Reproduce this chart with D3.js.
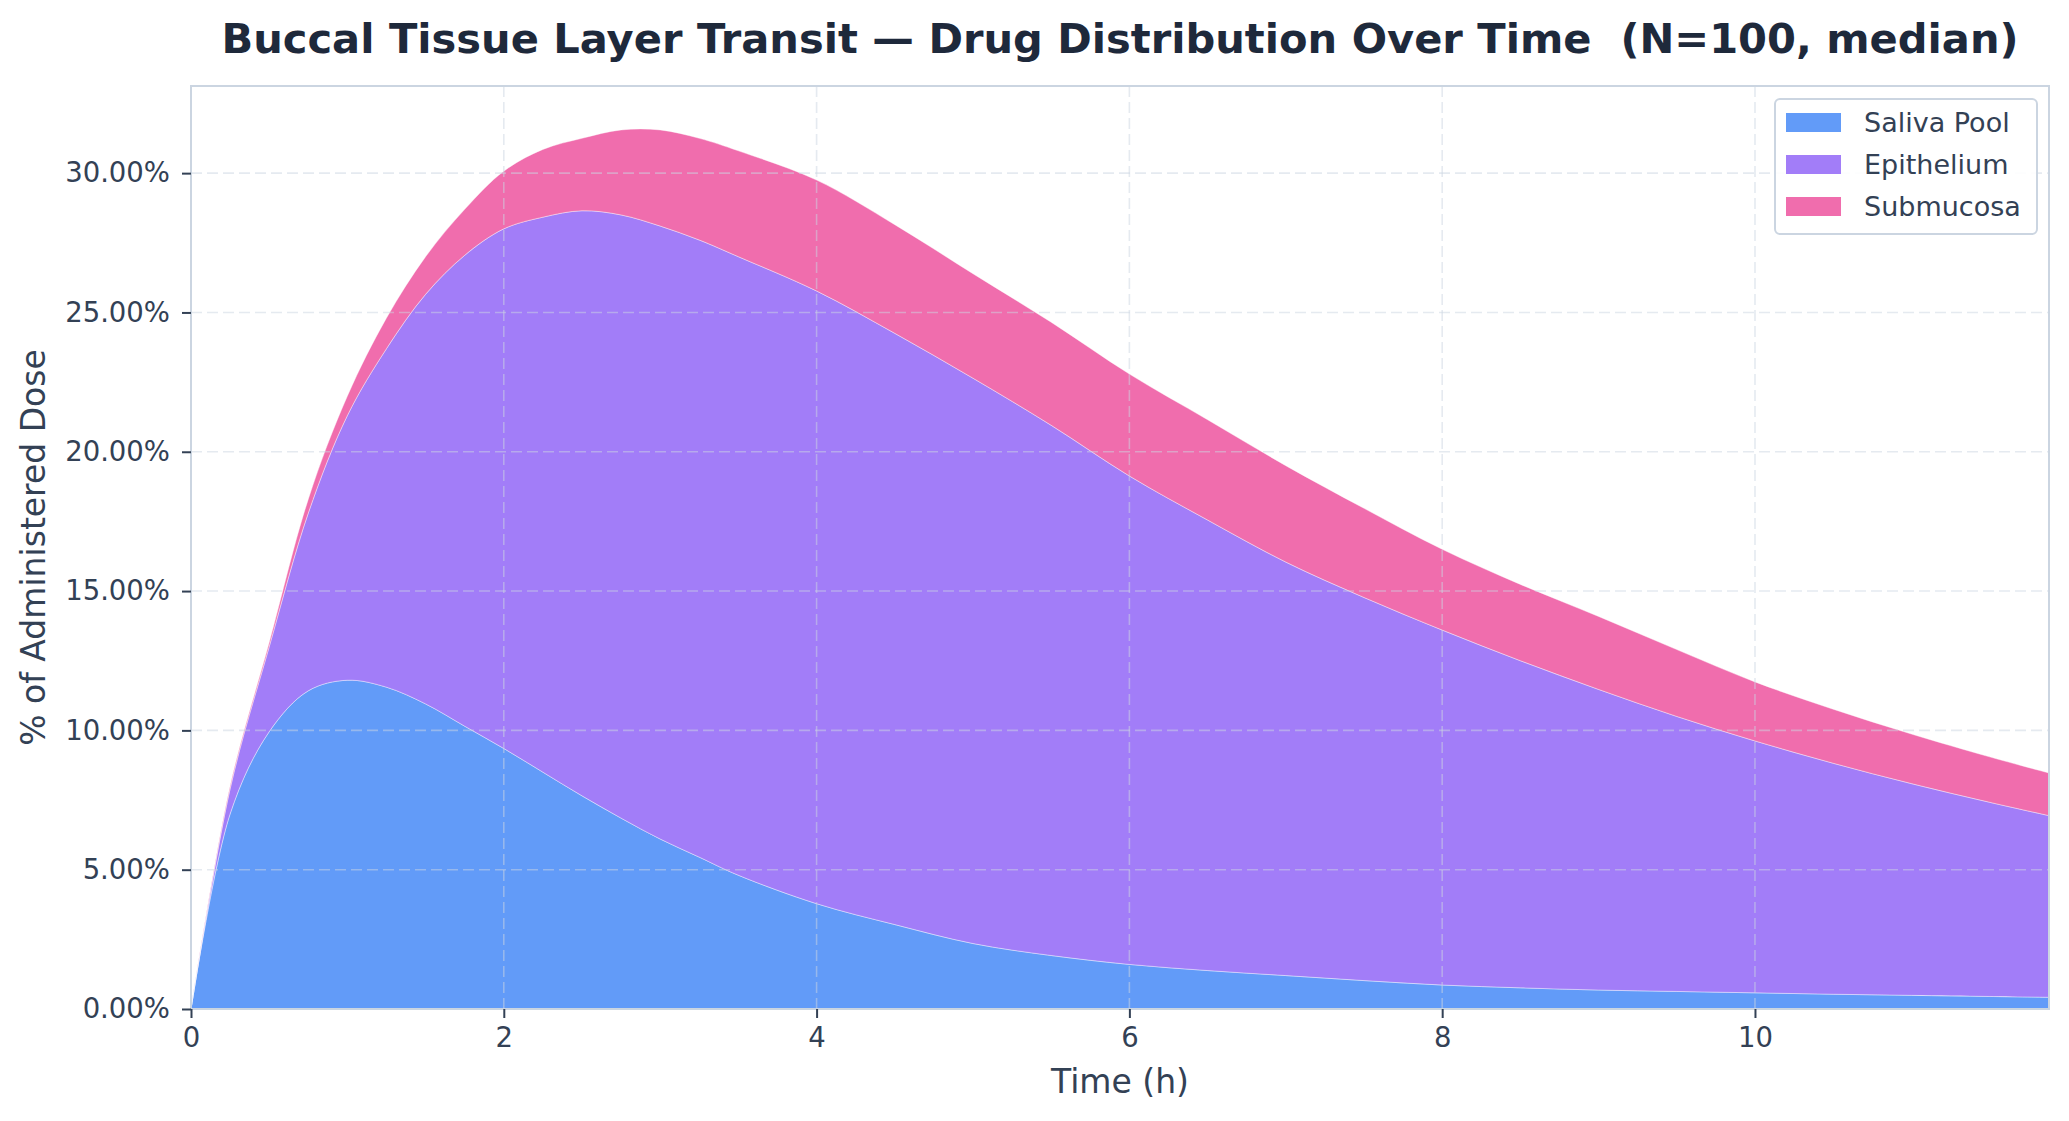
<!DOCTYPE html>
<html>
<head>
<meta charset="utf-8">
<script src="https://cdn.jsdelivr.net/npm/d3@7"></script>
<style>
  html, body { margin: 0; padding: 0; background: #fff; }
  svg { display: block; font-family: "DejaVu Sans", sans-serif; }
</style>
</head>
<body>
<script>
// time points (h) and median % of dose in each layer
const hours = [0, 0.25, 0.5, 0.75, 1, 1.25, 1.5, 1.75, 2, 2.25, 2.5, 2.75, 3, 3.25, 3.5, 4, 4.5, 5, 5.5, 6, 6.5, 7, 7.5, 8, 8.5, 9, 9.5, 10, 10.5, 11, 11.5, 11.88];
const saliva = [0, 7.0, 9.95, 11.42, 11.8, 11.55, 10.95, 10.15, 9.35, 8.5, 7.65, 6.85, 6.1, 5.45, 4.8, 3.78, 3.03, 2.35, 1.92, 1.6, 1.38, 1.2, 1.02, 0.86, 0.76, 0.68, 0.63, 0.58, 0.53, 0.49, 0.45, 0.42];
const epithelium = [0, 0.9, 3.05, 6.38, 9.5, 12.15, 14.7, 16.9, 18.65, 19.92, 21.0, 21.65, 22.0, 22.15, 22.2, 21.99, 21.22, 20.29, 19.03, 17.53, 16.17, 14.84, 13.75, 12.74, 11.74, 10.79, 9.87, 9.04, 8.29, 7.6, 6.97, 6.52];
const submucosa = [0, 0.1, 0.15, 0.5, 0.7, 1.1, 1.35, 1.65, 2.07, 2.43, 2.6, 3.05, 3.45, 3.65, 3.8, 3.98, 3.9, 3.75, 3.7, 3.66, 3.6, 3.46, 3.2, 2.9, 2.74, 2.62, 2.4, 2.12, 1.94, 1.78, 1.63, 1.53];
const layers = ["Saliva Pool", "Epithelium", "Submucosa"];
const colors = ["#3b82f6", "#8b5cf6", "#ec4899"];
const xTicks = [0, 2, 4, 6, 8, 10];
const yTicks = [0, 5, 10, 15, 20, 25, 30];

const width = 2069, height = 1121;
const margin = {left: 191, right: 20, top: 86, bottom: 112};

const rows = hours.map((t, i) => ({
  t: t,
  "Saliva Pool": saliva[i],
  "Epithelium": epithelium[i],
  "Submucosa": submucosa[i]
}));
const series = d3.stack().keys(layers)(rows);

const x = d3.scaleLinear()
  .domain([0, d3.max(hours)])
  .range([margin.left, width - margin.right]);
const yMax = d3.max(series[series.length - 1], d => d[1]) * 1.05;
const y = d3.scaleLinear()
  .domain([0, yMax])
  .range([height - margin.bottom, margin.top]);

const svg = d3.select("body").append("svg")
  .attr("width", width)
  .attr("height", height);

const area = d3.area()
  .curve(d3.curveCatmullRom.alpha(0.5))
  .x(d => x(d.data.t))
  .y0(d => y(d[0]))
  .y1(d => y(d[1]));

svg.append("g")
  .selectAll("path")
  .data(series)
  .enter()
  .append("path")
  .attr("fill", (d, i) => colors[i])
  .attr("fill-opacity", 0.8)
  .attr("stroke", "#ffffff")
  .attr("stroke-opacity", 0.5)
  .attr("stroke-width", 0.8)
  .attr("d", area);

// dashed grid over the areas
let grid = svg.append("g")
  .attr("stroke", "#cbd5e1")
  .attr("stroke-opacity", 0.5)
  .attr("stroke-width", 1.6)
  .attr("stroke-dasharray", "11,5");
grid.selectAll(".gx")
  .data(xTicks)
  .enter().append("line")
  .attr("x1", d => x(d)).attr("x2", d => x(d))
  .attr("y1", margin.top).attr("y2", height - margin.bottom);
grid.selectAll(".gy")
  .data(yTicks)
  .enter().append("line")
  .attr("x1", margin.left).attr("x2", width - margin.right)
  .attr("y1", d => y(d)).attr("y2", d => y(d));

// frame
svg.append("rect")
  .attr("x", margin.left)
  .attr("y", margin.top)
  .attr("width", width - margin.left - margin.right)
  .attr("height", height - margin.top - margin.bottom)
  .attr("fill", "none")
  .attr("stroke", "#cbd5e1")
  .attr("stroke-width", 2);

// axes
let xAxis = svg.append("g")
  .attr("transform", `translate(0,${height - margin.bottom})`)
  .call(d3.axisBottom(x).tickValues(xTicks).tickFormat(d3.format("d")).tickSize(9).tickPadding(9));
let yAxis = svg.append("g")
  .attr("transform", `translate(${margin.left},0)`)
  .call(d3.axisLeft(y).tickValues(yTicks).tickFormat(d => d.toFixed(2) + "%").tickSize(9).tickPadding(12));
[xAxis, yAxis].forEach(a => {
  a.select(".domain").remove();
  a.selectAll(".tick line").attr("stroke", "#334155").attr("stroke-width", 2);
  a.selectAll(".tick text")
    .attr("fill", "#334155")
    .style("font-size", "27.5px")
    .style("font-family", "DejaVu Sans");
});

// labels
svg.append("text")
  .attr("x", (margin.left + width - margin.right) / 2)
  .attr("y", 53)
  .attr("text-anchor", "middle")
  .attr("fill", "#1e293b")
  .style("font-size", "41.6px")
  .style("font-weight", "bold")
  .attr("xml:space", "preserve")
  .text("Buccal Tissue Layer Transit \u2014 Drug Distribution Over Time  (N=100, median)");

svg.append("text")
  .attr("x", (margin.left + width - margin.right) / 2)
  .attr("y", 1093)
  .attr("text-anchor", "middle")
  .attr("fill", "#334155")
  .style("font-size", "33px")
  .text("Time (h)");

svg.append("text")
  .attr("transform", `translate(45,${(margin.top + height - margin.bottom) / 2}) rotate(-90)`)
  .attr("text-anchor", "middle")
  .attr("fill", "#334155")
  .style("font-size", "33px")
  .text("% of Administered Dose");

// legend
let legend = svg.append("g").attr("transform", "translate(1775,99)");
legend.append("rect")
  .attr("width", 262).attr("height", 135)
  .attr("rx", 5)
  .attr("fill", "#ffffff")
  .attr("fill-opacity", 0.9)
  .attr("stroke", "#cbd5e1")
  .attr("stroke-width", 2);
layers.forEach((name, i) => {
  let row = legend.append("g").attr("transform", `translate(0,${23.5 + i * 42})`);
  row.append("rect")
    .attr("x", 11).attr("y", -9.5)
    .attr("width", 55).attr("height", 19)
    .attr("fill", colors[i])
    .attr("fill-opacity", 0.8);
  row.append("text")
    .attr("x", 89).attr("y", 9.5)
    .attr("fill", "#334155")
    .style("font-size", "27px")
    .text(name);
});
</script>
</body>
</html>
